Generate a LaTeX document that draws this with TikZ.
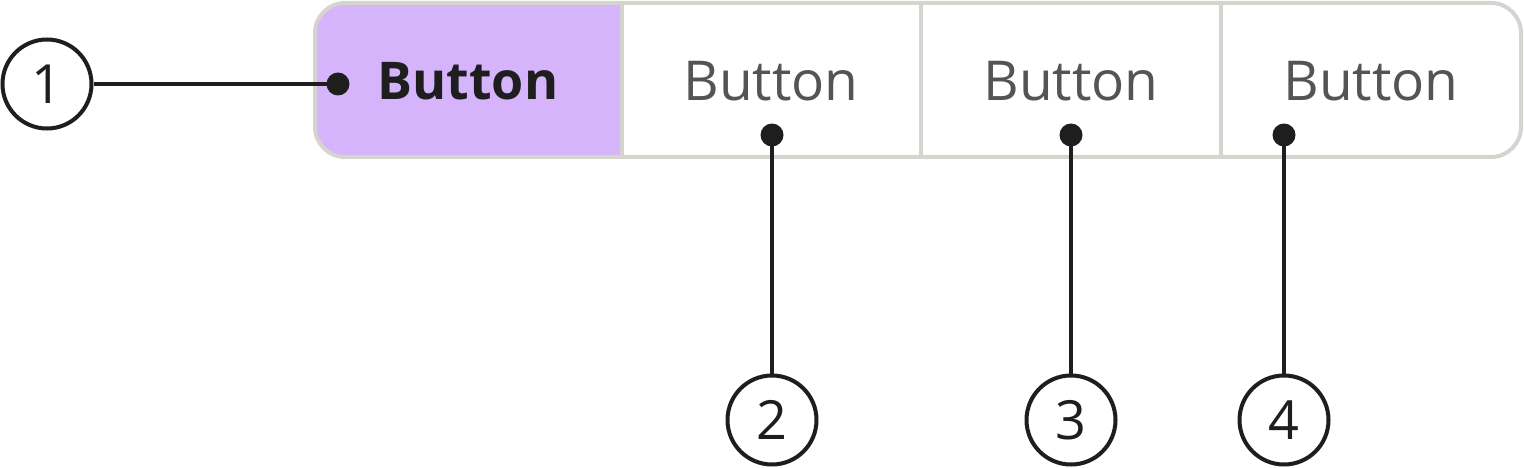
\documentclass[tikz,border=0pt]{standalone}
\usepackage{fontspec}
\setmainfont{Open Sans}
\definecolor{bordergray}{HTML}{D5D4CF}
\definecolor{selpurple}{HTML}{D6B4FC}
\definecolor{inktext}{HTML}{1E1E1E}
\definecolor{softtext}{HTML}{545457}
\begin{document}
\begin{tikzpicture}[x=1pt,y=-1pt,
  seglabel/.style={font=\fontsize{55}{60}\selectfont, text=softtext, inner sep=0pt},
  sellabel/.style={font=\fontsize{52}{60}\selectfont\bfseries, text=inktext, inner sep=0pt},
  callout/.style={circle, draw=inktext, line width=4pt, fill=white, minimum size=89pt, inner sep=0pt, font=\fontsize{54}{58}\selectfont, text=inktext},
  leader/.style={draw=inktext, line width=4pt},
  dotmark/.style={circle, fill=inktext, minimum size=23pt, inner sep=0pt}]
\useasboundingbox (0,0) rectangle (1524,468);
% selected segment fill
\begin{scope}
\clip[rounded corners=30pt] (315,3) rectangle (1521,157);
\fill[selpurple] (315,3) rectangle (622,157);
\end{scope}
% dividers
\draw[bordergray, line width=4pt] (622,3) -- (622,157);
\draw[bordergray, line width=4pt] (921,3) -- (921,157);
\draw[bordergray, line width=4pt] (1221,3) -- (1221,157);
% outline
\draw[bordergray, line width=4pt, rounded corners=30pt] (315,3) rectangle (1521,157);
% labels
\node[sellabel] (b1) at (468,81) {Button};
\node[seglabel] (b2) at (771,81) {Button};
\node[seglabel] (b3) at (1071,81) {Button};
\node[seglabel] (b4) at (1371,81) {Button};
% dots
\node[dotmark] (d1) at (338,84) {};
\node[dotmark] (d2) at (772,135) {};
\node[dotmark] (d3) at (1071,135) {};
\node[dotmark] (d4) at (1284,135) {};
% callouts
\node[callout] (c1) at (47,84) {1};
\node[callout] (c2) at (772,420) {2};
\node[callout] (c3) at (1071,420) {3};
\node[callout] (c4) at (1284,420) {4};
% leaders
\draw[leader] (c1) -- (d1.center);
\draw[leader] (c2) -- (d2.center);
\draw[leader] (c3) -- (d3.center);
\draw[leader] (c4) -- (d4.center);
\end{tikzpicture}
\end{document}
